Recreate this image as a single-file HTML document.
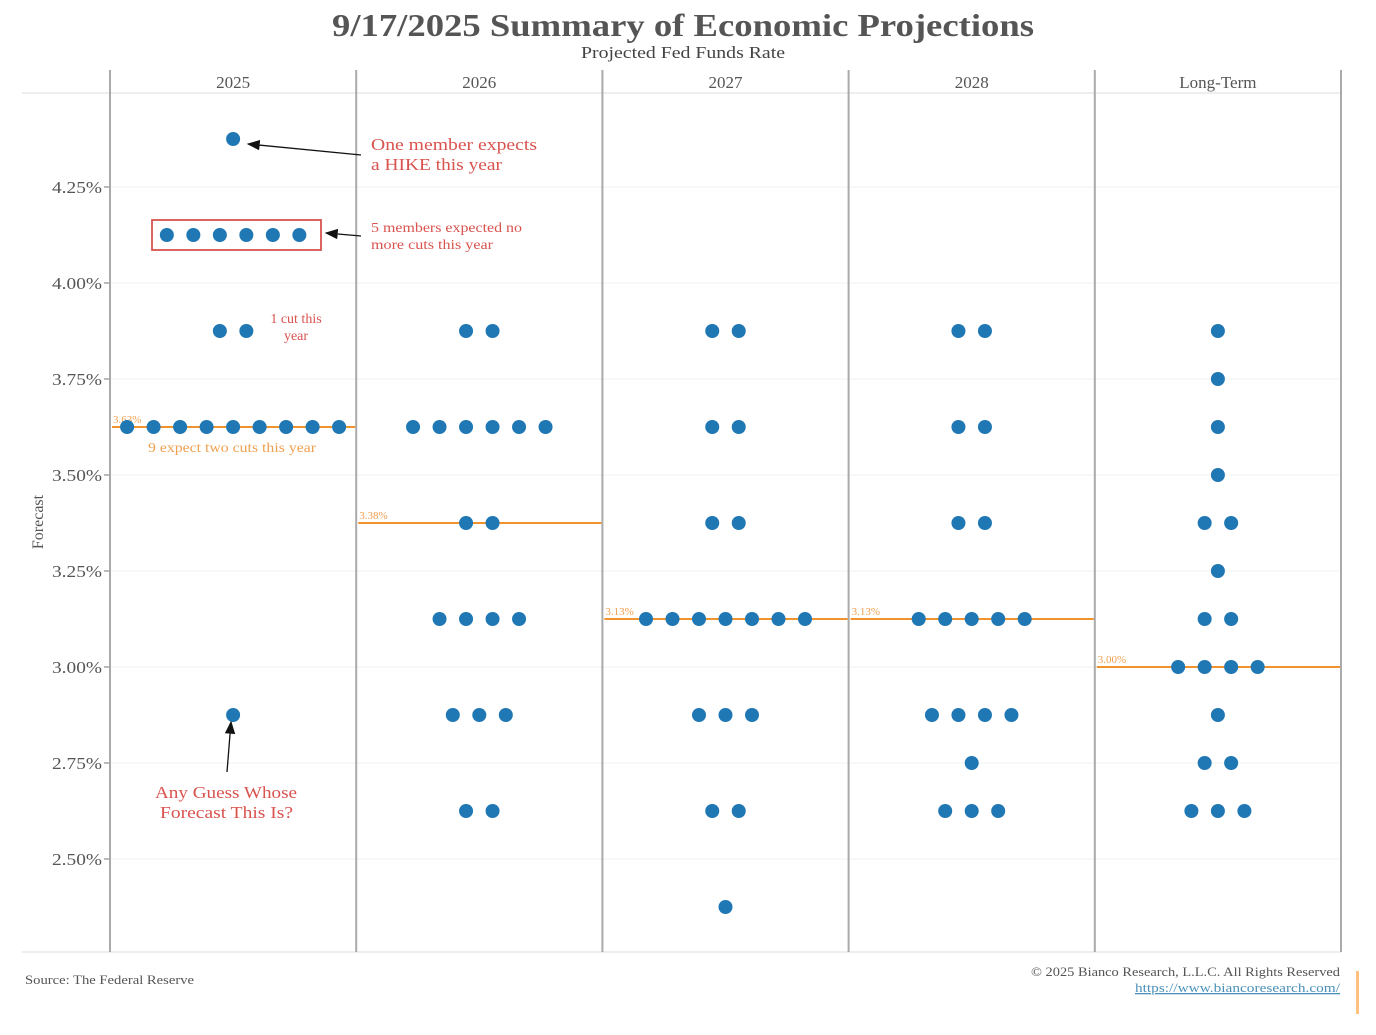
<!DOCTYPE html>
<html><head><meta charset="utf-8"><style>
body{margin:0;background:#fff;width:1376px;height:1030px;overflow:hidden;font-family:"Liberation Serif",serif}
svg text{font-family:"Liberation Serif",serif}
</style></head><body>
<svg id="c" width="1376" height="1030" xmlns="http://www.w3.org/2000/svg">
<text x="332" y="36" textLength="702" lengthAdjust="spacingAndGlyphs" font-size="32" font-weight="bold" fill="#555">9/17/2025 Summary of Economic Projections</text>
<text x="581" y="58" textLength="204" lengthAdjust="spacingAndGlyphs" font-size="17" fill="#444">Projected Fed Funds Rate</text>
<text transform="translate(43,522) rotate(-90)" text-anchor="middle" font-size="16" fill="#555">Forecast</text>
<g id="grid"></g><g id="marks"></g>
<g font-size="17">
<defs><marker id="ah" markerWidth="10" markerHeight="8" refX="9" refY="4" orient="auto"><path d="M0,0 L10,4 L0,8z" fill="#111"/></marker></defs>
<line x1="361" y1="155" x2="248" y2="144" stroke="#111" stroke-width="1.3" marker-end="url(#ah)"/>
<text x="371" y="150" textLength="166" lengthAdjust="spacingAndGlyphs" fill="#d9534f">One member expects</text>
<text x="371" y="170" textLength="131" lengthAdjust="spacingAndGlyphs" fill="#d9534f">a HIKE this year</text>
<rect x="152" y="220" width="169" height="30" fill="none" stroke="#d9534f" stroke-width="1.8"/>
<line x1="361" y1="236" x2="326" y2="233" stroke="#111" stroke-width="1.3" marker-end="url(#ah)"/>
<text x="371" y="232" textLength="151" lengthAdjust="spacingAndGlyphs" font-size="14" fill="#d9534f">5 members expected no</text>
<text x="371" y="249" textLength="122" lengthAdjust="spacingAndGlyphs" font-size="14" fill="#d9534f">more cuts this year</text>
<text x="296" y="323" font-size="14" text-anchor="middle" fill="#d9534f">1 cut this</text>
<text x="296" y="340" font-size="14" text-anchor="middle" fill="#d9534f">year</text>
<text x="148" y="452" textLength="168" lengthAdjust="spacingAndGlyphs" font-size="14" fill="#f0a050">9 expect two cuts this year</text>
<line x1="227" y1="772" x2="231" y2="722" stroke="#111" stroke-width="1.3" marker-end="url(#ah)"/>
<text x="155" y="798" textLength="142" lengthAdjust="spacingAndGlyphs" fill="#d9534f">Any Guess Whose</text>
<text x="160" y="818" textLength="133" lengthAdjust="spacingAndGlyphs" fill="#d9534f">Forecast This Is?</text>
</g>
<text x="25" y="984" textLength="169" lengthAdjust="spacingAndGlyphs" font-size="13" fill="#555">Source: The Federal Reserve</text>
<text x="1031" y="976" textLength="309" lengthAdjust="spacingAndGlyphs" font-size="13" fill="#555">© 2025 Bianco Research, L.L.C. All Rights Reserved</text>
<text x="1135" y="992" textLength="205" lengthAdjust="spacingAndGlyphs" font-size="13" fill="#4a90b8" text-decoration="underline">https://www.biancoresearch.com/</text>
<rect x="1356" y="971" width="3" height="43" fill="#ffc080"/>
</svg>
<script>
const columns=["2025","2026","2027","2028","Long-Term"];
const rates=[4.375,4.125,3.875,3.75,3.625,3.5,3.375,3.25,3.125,3.0,2.875,2.75,2.625,2.375];
const counts2025=[1,6,2,0,9,0,0,0,0,0,1,0,0,0];
const counts2026=[0,0,2,0,6,0,2,0,4,0,3,0,2,0];
const counts2027=[0,0,2,0,2,0,2,0,7,0,3,0,2,1];
const counts2028=[0,0,2,0,2,0,2,0,5,0,4,1,3,0];
const countsLT=[0,0,1,1,1,1,2,1,2,4,1,2,3,0];
const medians=[3.625,3.375,3.125,3.125,3.0];
const medianLabels=["3.63%","3.38%","3.13%","3.13%","3.00%"];
const yTicks=[2.5,2.75,3.0,3.25,3.5,3.75,4.0,4.25];
const yTickLabels=["2.50%","2.75%","3.00%","3.25%","3.50%","3.75%","4.00%","4.25%"];
const allCounts=[counts2025,counts2026,counts2027,counts2028,countsLT];
const NS="http://www.w3.org/2000/svg";
const L=110,R=1341,T=93,B=952,pw=(R-L)/columns.length;
const y=v=>667-(v-3)*384;
const x0=i=>L+i*pw;
function mk(tag,at,parent){const e=document.createElementNS(NS,tag);for(const k in at)e.setAttribute(k,at[k]);parent.appendChild(e);return e;}
const g=document.getElementById('grid'),m=document.getElementById('marks');
mk('line',{x1:22,x2:R,y1:T,y2:T,stroke:'#ddd'},g);
mk('line',{x1:22,x2:R,y1:B,y2:B,stroke:'#ddd'},g);
yTicks.forEach((v,i)=>{
 mk('line',{x1:L,x2:R,y1:y(v),y2:y(v),stroke:'#f0f0f0'},g);
 mk('line',{x1:L-6,x2:L,y1:y(v),y2:y(v),stroke:'#777'},g);
 const t=mk('text',{x:L-8,y:y(v)+6,'text-anchor':'end','font-size':17,textLength:50,lengthAdjust:'spacingAndGlyphs',fill:'#555'},g);t.textContent=yTickLabels[i];
 
 
});
for(let i=0;i<=columns.length;i++){mk('line',{x1:x0(i),x2:x0(i),y1:70,y2:B,stroke:'#aaa','stroke-width':2},g);}
columns.forEach((c,i)=>{
 const cx=x0(i)+pw/2;
 const t=mk('text',{x:cx,y:88,'text-anchor':'middle','font-size':17,fill:'#555'},g);t.textContent=c;
 
 
 const ml=mk('line',{x1:x0(i)+2,x2:x0(i+1)-1,y1:y(medians[i]),y2:y(medians[i]),stroke:'#f0922e','stroke-width':2},m);
 
 
 const mt=mk('text',{x:x0(i)+3,y:y(medians[i])-4,'font-size':11,fill:'#f0a050'},m);mt.textContent=medianLabels[i];
 
 
 allCounts[i].forEach((n,j)=>{
  for(let k=0;k<n;k++){
   const d=mk('circle',{cx:cx+(k-(n-1)/2)*26.5,cy:y(rates[j]),r:7,fill:'#1f77b4'},m);
   
   
  }
 });
});
</script>
</body></html>
